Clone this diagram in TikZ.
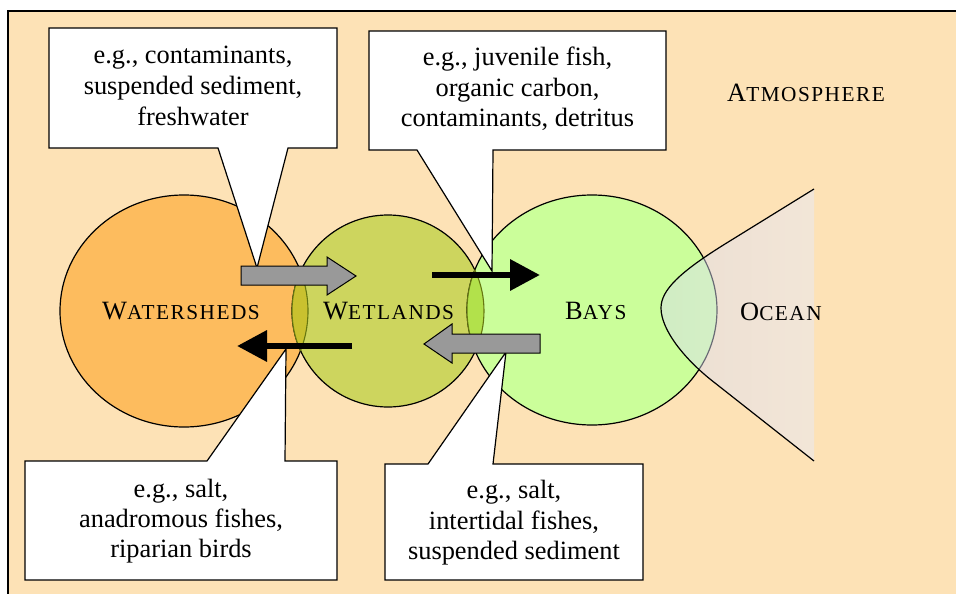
\documentclass[tikz,border=0pt]{standalone}
\usepackage{fontspec}
\setmainfont{Liberation Serif}
\newfontfamily\scfont[LetterSpace=7]{Liberation Serif}
\usetikzlibrary{arrows.meta}
\definecolor{bg}{HTML}{FDE2B6}
\definecolor{wscol}{HTML}{FDBC5E}
\definecolor{wetcol}{HTML}{CDD55E}
\definecolor{baycol}{HTML}{CBFE9A}
\definecolor{lensA}{HTML}{C9C12F}
\definecolor{lensB}{HTML}{B2E14B}
\definecolor{lensline}{HTML}{667710}
\definecolor{blockgrey}{HTML}{999999}
\definecolor{oceanL}{HTML}{D8DAF2}
\definecolor{oceanR}{HTML}{E8ECFD}
\newcommand\smc[2]{#1{\fontsize{21.3}{21.3}\scfont #2}}
\begin{document}
\begin{tikzpicture}[x=1pt,y=-1pt,
  every node/.style={inner sep=0pt, font=\fontsize{26.4}{30.5}\selectfont},
  outline/.style={draw=black, line width=1.2pt},
  lensedge/.style={draw=lensline, line width=1.1pt},
  callout/.style={fill=white, draw=black, line width=1.2pt, line join=miter},
  blockarrow/.style={fill=blockgrey, draw=black, line width=1pt},
  blackarrow/.style={line width=6.5pt, -{Triangle[length=30pt,width=30pt]}},
  txt/.style={anchor=base},
  lbl/.style={anchor=base west}]
\useasboundingbox (0,0) rectangle (956,594);
% background
\fill[bg] (8,11) rectangle (956,594);
\draw[line width=1.3pt] (8,594) -- (8,11) -- (956,11);
% circles
\def\wsE{(184,311) ellipse [x radius=124pt, y radius=116pt]}
\def\wetE{(388,311) circle [radius=96pt]}
\def\bayE{(592,310) ellipse [x radius=125pt, y radius=115pt]}
\fill[wscol] \wsE; \draw[outline] \wsE;
\fill[wetcol] \wetE; \draw[outline] \wetE;
\fill[baycol] \bayE; \draw[outline] \bayE;
% lens watersheds / wetlands
\begin{scope}\clip \wsE; \fill[lensA] \wetE; \end{scope}
\begin{scope}\clip \wsE; \draw[lensedge] \wetE; \end{scope}
\begin{scope}\clip \wetE; \draw[lensedge] \wsE; \end{scope}
% lens wetlands / bays
\begin{scope}\clip \wetE; \fill[lensB] \bayE; \end{scope}
\begin{scope}\clip \wetE; \draw[lensedge] \bayE; \end{scope}
\begin{scope}\clip \bayE; \draw[lensedge] \wetE; \end{scope}
% ocean
\def\oceanP{(814,189) -- (725,244) .. controls (680,272) and (661,290) .. (661,308) .. controls (661,330) and (685,360) .. (715,383) -- (814,461)}
\shade[left color=oceanL, right color=oceanR, fill opacity=0.48] \oceanP -- cycle;
\draw[outline] \oceanP;
% labels
\node[lbl] (ws) at (102,319) {\smc{W}{ATERSHEDS}};
\node[lbl] (wet) at (323,319) {\smc{W}{ETLANDS}};
\node[lbl] (bay) at (565,319) {\smc{B}{AYS}};
\node[lbl] (oce) at (740,320) {\smc{O}{CEAN}};
\node[lbl] (atm) at (727,102) {\smc{A}{TMOSPHERE}};
% callouts
\draw[callout] (49,28) -- (337,28) -- (337,148) -- (288,148) -- (257,268) -- (218,148) -- (49,148) -- cycle;
\node[txt] (c1a) at (193,64) {e.g., contaminants,};
\node[txt] (c1b) at (193,94.5) {suspended sediment,};
\node[txt] (c1c) at (193,125) {freshwater};
\draw[callout] (369,31) -- (666,31) -- (666,150) -- (493,150) -- (492,271) -- (417,150) -- (369,150) -- cycle;
\node[txt] (c2a) at (517.5,66) {e.g., juvenile fish,};
\node[txt] (c2b) at (517.5,96) {organic carbon,};
\node[txt] (c2c) at (517.5,126) {contaminants, detritus};
\draw[callout] (25,461) -- (207,461) -- (286,349) -- (285,461) -- (337,461) -- (337,580) -- (25,580) -- cycle;
\node[txt] (c3a) at (181,497) {e.g., salt,};
\node[txt] (c3b) at (181,527) {anadromous fishes,};
\node[txt] (c3c) at (181,557) {riparian birds};
\draw[callout] (385,464) -- (428,464) -- (506,352) -- (493,464) -- (643,464) -- (643,580) -- (385,580) -- cycle;
\node[txt] (c4a) at (514,498.5) {e.g., salt,};
\node[txt] (c4b) at (514,529) {intertidal fishes,};
\node[txt] (c4c) at (514,559.5) {suspended sediment};
% grey block arrows
\draw[blockarrow] (241,266) -- (327,266) -- (327,257) -- (356,276) -- (327,295) -- (327,285) -- (241,285) -- cycle;
\draw[blockarrow] (540,334) -- (452,334) -- (452,324) -- (424,344) -- (452,363) -- (452,353) -- (540,353) -- cycle;
% black arrows
\coordinate (ka) at (432,275);
\coordinate (kb) at (540,275);
\coordinate (kc) at (352,346);
\coordinate (kd) at (237,346);
\draw[blackarrow] (ka) -- (kb);
\draw[blackarrow] (kc) -- (kd);
\end{tikzpicture}
\end{document}
